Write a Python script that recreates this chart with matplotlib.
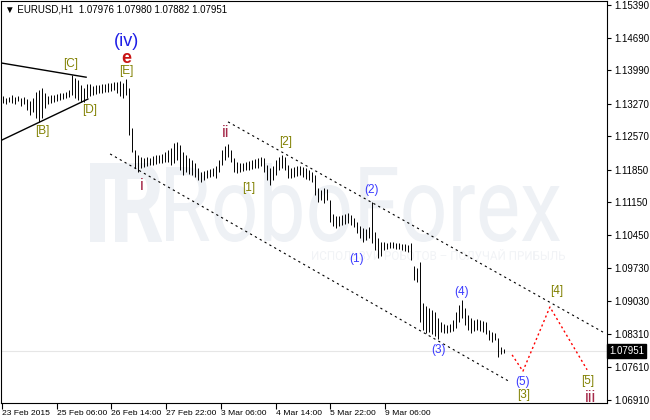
import numpy as np
import matplotlib
matplotlib.use("Agg")
import matplotlib.pyplot as plt
from matplotlib.textpath import TextPath
from matplotlib.patches import PathPatch, Rectangle
from matplotlib.transforms import Affine2D, IdentityTransform, blended_transform_factory
from matplotlib.font_manager import FontProperties

plt.rcParams["font.family"] = ["Liberation Sans", "DejaVu Sans"]

# EURUSD H1 bars (high / low)
highs = [1.1344, 1.1339, 1.1341, 1.1346, 1.1341, 1.1344, 1.1339, 1.1341, 1.1337, 1.1333,
         1.1339, 1.1352, 1.1357, 1.1361, 1.1350, 1.1344, 1.1346, 1.1346, 1.1348, 1.1350,
         1.1350, 1.1352, 1.1357, 1.1389, 1.1382, 1.1378, 1.1367, 1.1361, 1.1369, 1.1369,
         1.1365, 1.1367, 1.1367, 1.1369, 1.1369, 1.1372, 1.1372, 1.1374, 1.1374, 1.1376,
         1.1372, 1.1380, 1.1361, 1.1275, 1.1228, 1.1217, 1.1212, 1.1210, 1.1212, 1.1210,
         1.1215, 1.1217, 1.1217, 1.1219, 1.1223, 1.1228, 1.1232, 1.1243, 1.1245, 1.1238,
         1.1223, 1.1217, 1.1210, 1.1206, 1.1200, 1.1189, 1.1180, 1.1182, 1.1185, 1.1187,
         1.1189, 1.1193, 1.1206, 1.1228, 1.1236, 1.1240, 1.1228, 1.1210, 1.1202, 1.1200,
         1.1200, 1.1202, 1.1204, 1.1206, 1.1208, 1.1210, 1.1212, 1.1210, 1.1195, 1.1189,
         1.1193, 1.1206, 1.1212, 1.1217, 1.1212, 1.1195, 1.1189, 1.1191, 1.1193, 1.1193,
         1.1191, 1.1189, 1.1185, 1.1180, 1.1174, 1.1146, 1.1142, 1.1146, 1.1144, 1.1120,
         1.1090, 1.1086, 1.1086, 1.1088, 1.1090, 1.1092, 1.1088, 1.1081, 1.1073, 1.1064,
         1.1060, 1.1058, 1.1062, 1.1116, 1.1051, 1.1038, 1.1030, 1.1030, 1.1027, 1.1030,
         1.1030, 1.1027, 1.1027, 1.1025, 1.1025, 1.1023, 1.1027, 1.0978, 1.0974, 1.0987,
         1.0899, 1.0892, 1.0888, 1.0884, 1.0879, 1.0866, 1.0858, 1.0853, 1.0851, 1.0853,
         1.0862, 1.0879, 1.0894, 1.0905, 1.0888, 1.0873, 1.0866, 1.0862, 1.0864, 1.0862,
         1.0860, 1.0858, 1.0841, 1.0836, 1.0834, 1.0823, 1.0804, 1.0800]
lows = [1.1329, 1.1326, 1.1331, 1.1329, 1.1326, 1.1333, 1.1322, 1.1326, 1.1314, 1.1303,
        1.1309, 1.1296, 1.1288, 1.1296, 1.1318, 1.1326, 1.1329, 1.1331, 1.1333, 1.1335,
        1.1337, 1.1339, 1.1341, 1.1346, 1.1339, 1.1335, 1.1331, 1.1331, 1.1339, 1.1344,
        1.1346, 1.1348, 1.1350, 1.1350, 1.1352, 1.1352, 1.1354, 1.1357, 1.1350, 1.1344,
        1.1339, 1.1346, 1.1260, 1.1223, 1.1189, 1.1180, 1.1189, 1.1191, 1.1193, 1.1195,
        1.1195, 1.1197, 1.1200, 1.1200, 1.1202, 1.1202, 1.1195, 1.1200, 1.1206, 1.1185,
        1.1174, 1.1180, 1.1176, 1.1174, 1.1169, 1.1163, 1.1159, 1.1163, 1.1167, 1.1169,
        1.1172, 1.1167, 1.1180, 1.1195, 1.1206, 1.1212, 1.1202, 1.1180, 1.1178, 1.1180,
        1.1182, 1.1185, 1.1185, 1.1187, 1.1189, 1.1189, 1.1193, 1.1180, 1.1163, 1.1152,
        1.1163, 1.1174, 1.1185, 1.1189, 1.1185, 1.1167, 1.1167, 1.1169, 1.1172, 1.1174,
        1.1169, 1.1165, 1.1163, 1.1159, 1.1131, 1.1116, 1.1120, 1.1114, 1.1120, 1.1073,
        1.1064, 1.1060, 1.1064, 1.1066, 1.1068, 1.1071, 1.1066, 1.1062, 1.1049, 1.1038,
        1.1030, 1.1034, 1.1038, 1.1027, 1.1013, 1.0995, 1.0999, 1.1013, 1.1015, 1.1017,
        1.1017, 1.1015, 1.1015, 1.1013, 1.1010, 1.1008, 1.0991, 1.0948, 1.0944, 1.0858,
        1.0841, 1.0834, 1.0836, 1.0832, 1.0828, 1.0821, 1.0836, 1.0834, 1.0834, 1.0836,
        1.0838, 1.0845, 1.0858, 1.0866, 1.0851, 1.0841, 1.0834, 1.0838, 1.0841, 1.0838,
        1.0836, 1.0832, 1.0819, 1.0815, 1.0819, 1.0782, 1.0789, 1.0791]
last_price = 1.07951
header = "\u25bc EURUSD,H1  1.07976 1.07980 1.07882 1.07951"

y_ticks = [1.15390, 1.14690, 1.13990, 1.13270, 1.12570, 1.11850, 1.11150,
           1.10450, 1.09730, 1.09030, 1.08310, 1.07610, 1.06910]
x_tick_labels = ["23 Feb 2015", "25 Feb 06:00", "26 Feb 14:00", "27 Feb 22:00",
                 "3 Mar 06:00", "4 Mar 14:00", "5 Mar 22:00", "9 Mar 06:00"]
x_tick_pos = [-0.33, 18, 36, 54.33, 72.67, 91, 109, 127.33]

# wave marking: label, bar, price
olive_labels = [("[C]", 22.7, 1.1412), ("[B]", 13, 1.1268), ("[D]", 29, 1.1314),
                ("[E]", 41, 1.1397), ("[1]", 82, 1.1146), ("[2]", 94.3, 1.1245),
                ("[3]", 173.7, 1.0701), ("[4]", 184.7, 1.0924), ("[5]", 195, 1.0731)]
blue_labels = [("(1)", 117.7, 1.0993), ("(2)", 122.7, 1.1142), ("(3)", 145, 1.0798),
               ("(4)", 153, 1.0922), ("(5)", 173.3, 1.0729)]
roman_labels = [("i", 46.3, 1.1152), ("ii", 74.3, 1.1266), ("iii", 195.7, 1.0696)]

tri_upper = ([-1, 27.7], [1.1415, 1.1384])
tri_lower = ([-1, 28.3], [1.1247, 1.1337])
chan_upper = ([75, 200], [1.1288, 1.0836])
chan_lower = ([35.7, 169], [1.1219, 1.0729])
forecast = ([169.7, 173.3, 182.3, 194.7], [1.0787, 1.0752, 1.0890, 1.0755])

fig = plt.figure(figsize=(6.5, 4.2), dpi=100)
ax = fig.add_axes([1 / 650, 17 / 420, 606 / 650, 402 / 420])


def stretched_text(s, x0, y0, w, h, color, bold=False):
    # text path squeezed into a pixel box (top-left origin), behind the bars
    fp = FontProperties(family="Roboto", weight="bold" if bold else "normal")
    tp = TextPath((0, 0), s, size=100, prop=fp)
    bb = tp.get_extents()
    tr = (Affine2D().translate(-bb.x0, -bb.y0)
          .scale(w / bb.width, h / bb.height)
          .translate(x0, 420 - y0 - h))
    ax.add_patch(PathPatch(tp, transform=tr, facecolor=color, edgecolor="none", zorder=0))


# watermark
wm = "#eef1f5"
ax.add_patch(Rectangle((90, 420 - 179), 60, 16, transform=IdentityTransform(),
                       facecolor=wm, edgecolor="none", zorder=0))
ax.add_patch(Rectangle((90, 420 - 242), 15, 79, transform=IdentityTransform(),
                       facecolor=wm, edgecolor="none", zorder=0))
stretched_text("R", 115, 163, 47, 79, wm, bold=True)
stretched_text("RoboForex", 166, 163, 394, 79, wm)
stretched_text("ИСПОЛЬЗУЙ РОБОТОВ – ПОЛУЧАЙ ПРИБЫЛЬ", 312, 249, 253, 11, "#f1f3f6")

x = np.arange(len(highs))
ax.axhline(last_price, color="#e6e6e6", lw=0.8, zorder=1)
ax.vlines(x, lows, highs, colors="black", lw=0.7, zorder=3)

ax.plot(*tri_upper, color="black", lw=1.0, zorder=3)
ax.plot(*tri_lower, color="black", lw=1.0, zorder=3)
ax.plot(*chan_upper, color="black", lw=0.8, ls=(0, (2, 3)), zorder=3)
ax.plot(*chan_lower, color="black", lw=0.8, ls=(0, (2, 3)), zorder=3)
ax.plot(*forecast, color="red", lw=1.0, ls=(0, (1.5, 2)), zorder=3)

for s, bx, py in olive_labels:
    ax.text(bx, py, s, color="#808000", fontsize=8.5, ha="center", va="center", zorder=4)
for s, bx, py in blue_labels:
    ax.text(bx, py, s, color="#3a3aff", fontsize=8.5, ha="center", va="center", zorder=4)
for s, bx, py in roman_labels:
    ax.text(bx, py, s, color="#a52a4a", fontsize=12, ha="center", va="center", zorder=4)
ax.text(41, 1.1460, "(iv)", color="#1e1ee6", fontsize=13, ha="center", va="center")
ax.text(41, 1.1425, "e", color="#c81414", fontsize=13, fontweight="bold",
        ha="center", va="center")

ax.set_xlim(-0.67, 201.33)
ax.set_ylim(1.06836, 1.15478)

ax.yaxis.tick_right()
ax.set_yticks(y_ticks)
ax.set_yticklabels([f"{v:.5f}" for v in y_ticks])
ax.set_xticks(x_tick_pos)
ax.set_xticklabels(x_tick_labels)
ax.tick_params(axis="y", labelsize=7, length=3, width=0.8, pad=2)
ax.tick_params(axis="x", labelsize=6.1, length=4, width=0.8, pad=1)
for lab in ax.get_xticklabels():
    lab.set_ha("left")
for sp in ax.spines.values():
    sp.set_linewidth(0.8)

tr = blended_transform_factory(ax.transAxes, ax.transData)
ax.text(1.004, last_price, f"{last_price:.5f}", transform=tr, color="white",
        fontsize=7, ha="left", va="center", clip_on=False,
        bbox=dict(facecolor="black", edgecolor="black", boxstyle="square,pad=0.2"))

fig.text(5 / 650, 1 - 9 / 420, header, fontsize=7, ha="left", va="center",
         family=["Liberation Sans", "DejaVu Sans"])

fig.savefig("out.png", dpi=100)
